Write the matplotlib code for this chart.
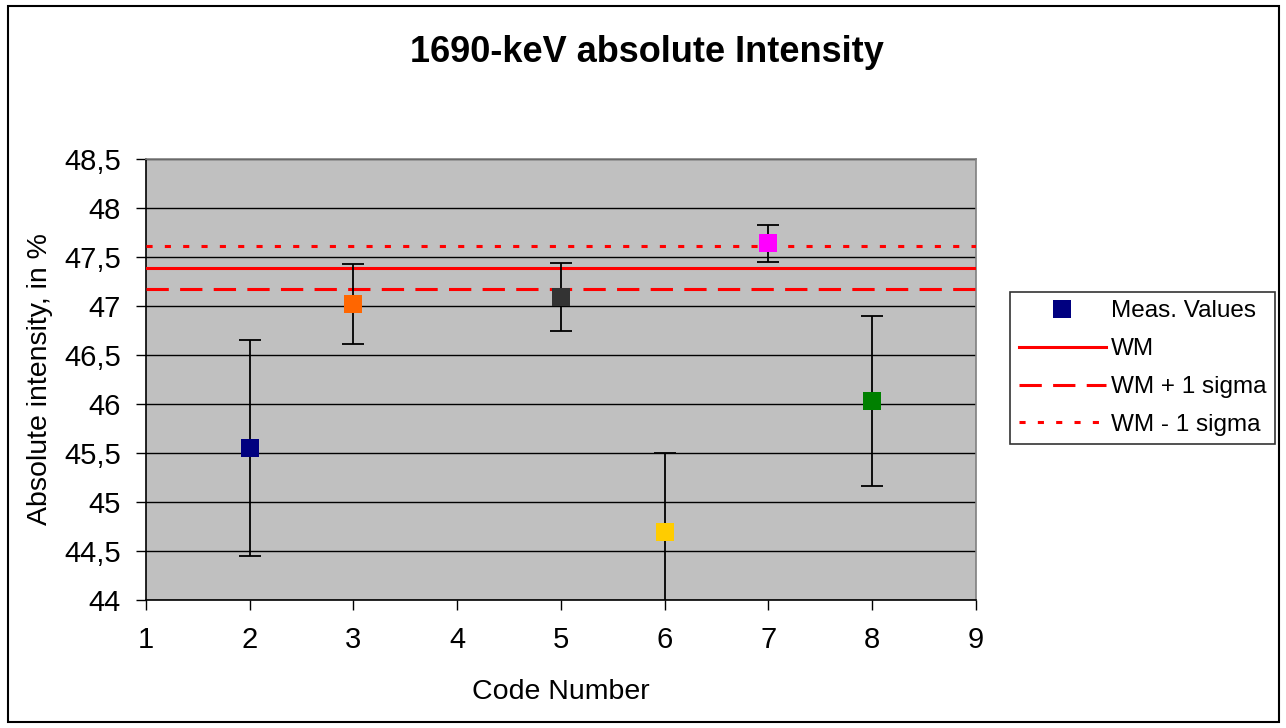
import matplotlib
matplotlib.use("Agg")
import matplotlib.pyplot as plt
from matplotlib.patches import Rectangle
from matplotlib.ticker import FuncFormatter

plt.rcParams["font.family"] = ["Liberation Sans", "DejaVu Sans"]

# -------------------------------------------------------------
# Data
# -------------------------------------------------------------
codes = [2, 3, 5, 6, 7, 8]
values = [45.55, 47.02, 47.09, 44.69, 47.64, 46.03]
errors = [1.10, 0.41, 0.35, 0.81, 0.19, 0.87]
point_colors = ["#000080", "#FF6600", "#333333", "#FFCC00", "#FF00FF", "#008000"]

wm = 47.39
wm_plus = 47.17
wm_minus = 47.61

x_range = [1, 9]
y_ticks = [44, 44.5, 45, 45.5, 46, 46.5, 47, 47.5, 48, 48.5]

# -------------------------------------------------------------
# Figure
# -------------------------------------------------------------
fig = plt.figure(figsize=(12.86, 7.28), dpi=100)
fig.patches.append(Rectangle((0.0062, 0.0082), 0.9883, 0.9835,
                             transform=fig.transFigure, fill=False,
                             edgecolor="black", linewidth=1.5))

ax = fig.add_axes([0.1135, 0.1758, 0.6454, 0.6058])
ax.set_facecolor("#C0C0C0")

for y in y_ticks:
    ax.axhline(y, color="black", linewidth=1.0, zorder=1)

# weighted mean lines
ax.plot(x_range, [wm, wm], color="#FF0000", linewidth=2.2,
        label="WM", zorder=3)
ax.plot(x_range, [wm_plus, wm_plus], color="#FF0000", linewidth=2.2,
        dashes=(7.3, 3.7), label="WM + 1 sigma", zorder=3)
ax.plot(x_range, [wm_minus, wm_minus], color="#FF0000", linewidth=2.2,
        dashes=(2.0, 4.0), label="WM - 1 sigma", zorder=3)

# measured values: error bars, then one colour per point
ax.errorbar(codes, values, yerr=errors, fmt="none", ecolor="black",
            elinewidth=1.3, capsize=8, capthick=1.3, zorder=4)
for i in range(len(codes)):
    ax.plot(codes[i], values[i], "s", color=point_colors[i],
            markersize=12.5, markeredgewidth=0, zorder=5,
            label="Meas. Values" if i == 0 else None)

ax.set_xlim(1, 9)
ax.set_ylim(44, 48.5)
ax.set_xticks(range(1, 10))
ax.set_yticks(y_ticks)
ax.yaxis.set_major_formatter(
    FuncFormatter(lambda v, p: f"{v:g}".replace(".", ","))
)
ax.tick_params(axis="both", direction="out", length=7, width=1,
               labelsize=21, colors="black")
ax.tick_params(axis="x", pad=12)
ax.tick_params(axis="y", pad=11)

for side in ["left", "bottom"]:
    ax.spines[side].set_color("black")
    ax.spines[side].set_linewidth(1.2)
for side in ["top", "right"]:
    ax.spines[side].set_color("#808080")
    ax.spines[side].set_linewidth(1.2)

ax.set_xlabel("Code Number", fontsize=20.5, labelpad=18)
ax.set_ylabel("Absolute intensity, in %", fontsize=20.5, labelpad=8)

fig.text(0.503, 0.928, "1690-keV absolute Intensity", ha="center",
         va="center", fontsize=26, fontweight="bold")

# legend: marker first, then the lines
handles, labels = ax.get_legend_handles_labels()
order = [labels.index(n) for n in
         ["Meas. Values", "WM", "WM + 1 sigma", "WM - 1 sigma"]]
leg = fig.legend([handles[k] for k in order], [labels[k] for k in order],
                 loc="upper left", bbox_to_anchor=(0.7854, 0.599),
                 fontsize=17.5, frameon=True, fancybox=False,
                 edgecolor="black", handlelength=3.6, handletextpad=0.2,
                 labelspacing=0.65, borderpad=0.35, borderaxespad=0)
leg.get_frame().set_linewidth(1.2)

fig.savefig("out.png", dpi=100)
